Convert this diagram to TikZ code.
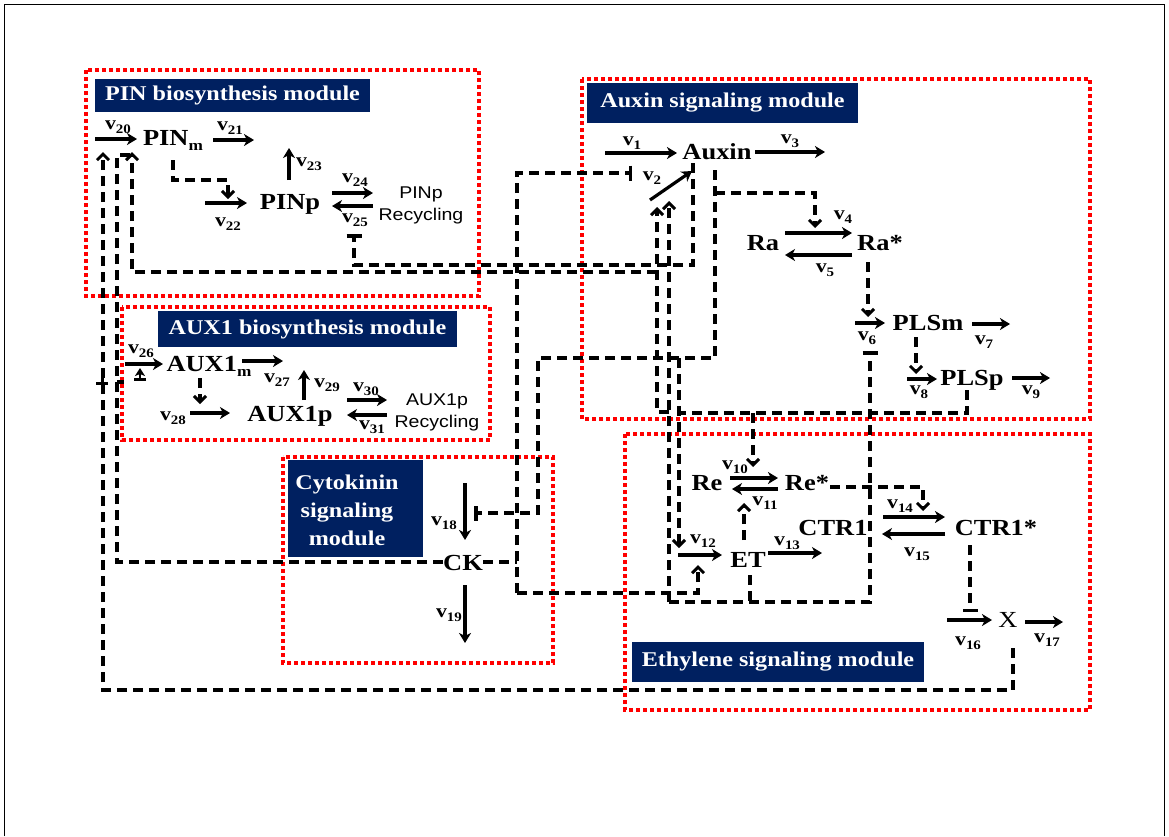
\documentclass[tikz,border=0pt]{standalone}
\usepackage{fontspec}
\setmainfont{Liberation Serif}[FakeStretch=1.15]
\setsansfont{Liberation Sans}[FakeStretch=1.15]
\usetikzlibrary{arrows.meta}
\definecolor{navy}{RGB}{0,32,96}
\newcommand\vsub[1]{\raisebox{-4.5pt}{\fontsize{13}{13}\selectfont #1}}
\newcommand\vl[1]{v\vsub{#1}}
\newcommand\spsub[1]{\raisebox{-5pt}{\fontsize{15}{15}\selectfont #1}}
\tikzset{
  species/.style={font=\fontsize{23}{24}\selectfont\bfseries, inner sep=0pt},
  vlab/.style={font=\fontsize{19}{20}\selectfont\bfseries, inner sep=0pt},
  rec/.style={font=\sffamily\fontsize{17}{22}\selectfont, align=center, inner sep=0pt},
  titlebox/.style={fill=navy, text=white, font=\fontsize{21}{27}\selectfont\bfseries, inner sep=0pt},
  modbox/.style={draw=red, line width=4pt, dash pattern=on 4pt off 3pt},
  rx/.style={line width=3.2pt, -{Stealth[length=10pt,width=12pt,inset=3pt]}},
  dline/.style={line width=3.2pt, dash pattern=on 10pt off 6pt},
  act/.style={dline, -{Straight Barb[length=6pt,width=12pt,line width=3pt]}},
  inh/.style={dline, -{Bar[width=15pt,line width=3.5pt]}}
}
\begin{document}
\begin{tikzpicture}[x=1pt,y=-1pt]
\useasboundingbox (0,0) rectangle (1169,836);
\fill[white] (0,0) rectangle (1169,836);
\draw[line width=1pt] (4.5,836) -- (4.5,4.5) -- (1164.5,4.5) -- (1164.5,836);

% module boxes
\draw[modbox] (86,70) rectangle (479,296);
\draw[modbox] (122,307) rectangle (490,440);
\draw[modbox] (582,79) rectangle (1090,419);
\draw[modbox] (625,434) rectangle (1090,710);
\draw[modbox] (283,457) rectangle (553,663);

% titles
\node[titlebox, minimum width=275pt, minimum height=33pt] (pint) at (232.5,95.5) {PIN biosynthesis module};
\node[titlebox, minimum width=299pt, minimum height=36pt] (auxt) at (307.5,329) {AUX1 biosynthesis module};
\node[titlebox, minimum width=271pt, minimum height=40pt] (auxint) at (722.5,103) {Auxin signaling module};
\node[titlebox, minimum width=292pt, minimum height=40pt] (etht) at (778,662) {Ethylene signaling module};
\node[titlebox, minimum width=135pt, minimum height=97pt] (ckt) at (355.5,508.5) {};
\node[text=white, font=\fontsize{21}{28}\selectfont\bfseries, align=center, inner sep=0pt] (cktx) at (347,510) {Cytokinin\\signaling\\ module};

% species
\node[species] (pinm) at (173,140) {PIN\spsub{m}};
\node[species] (pinp) at (290,204) {PINp};
\node[species] (aux1m) at (209,366) {AUX1\spsub{m}};
\node[species] (aux1p) at (290,416) {AUX1p};
\node[species] (auxin) at (717,152) {Auxin};
\node[species] (ra) at (763,243) {Ra};
\node[species] (rastar) at (880,243) {Ra*};
\node[species] (plsm) at (928,323) {PLSm};
\node[species] (plsp) at (972,380) {PLSp};
\node[species] (re) at (707,483) {Re};
\node[species] (restar) at (807,483) {Re*};
\node[species] (ctr1) at (833,528) {CTR1};
\node[species] (ctr1s) at (996,528) {CTR1*};
\node[species] (et) at (748,560) {ET};
\node[species] (ck) at (463,563) {CK};
\node[font=\fontsize{23}{24}\selectfont, inner sep=0pt] (xx) at (1008,620) {X};
\node[rec] (pinrec) at (421,205) {PINp\\Recycling};
\node[rec] (auxrec) at (437,412) {AUX1p\\Recycling};

% reaction arrows
\coordinate (a20s) at (95,139);  \coordinate (a20e) at (137,139);
\draw[rx] (a20s) -- (a20e);
\draw[rx] (213,140) -- (254,140);
\draw[rx] (205,203) -- (247,203);
\draw[rx] (289,180) -- (289,148);
\draw[rx] (332,193) -- (373,193);
\draw[rx] (373,206) -- (332,206);
\draw[rx] (125,364) -- (163,364);
\draw[line width=2.8pt, {Bar[width=12pt,line width=2.8pt]}-{Stealth[length=8pt,width=10pt,inset=2pt]}] (140,381) -- (140,368);
\draw[rx] (242,361) -- (283,361);
\draw[rx] (190,413) -- (230,413);
\draw[rx] (304,400) -- (304,370);
\draw[rx] (347,400) -- (387,400);
\draw[rx] (387,415) -- (347,415);
\draw[rx] (605,153) -- (677,153);
\draw[rx] (755,152) -- (825,152);
\draw[rx] (650,200) -- (692,171);
\draw[rx] (785,233) -- (852,233);
\draw[rx] (852,255) -- (785,255);
\draw[rx] (855,323) -- (885,323);
\draw[rx] (972,324) -- (1010,324);
\draw[rx] (907,379) -- (937,379);
\draw[rx] (1012,378) -- (1050,378);
\draw[rx] (730,478) -- (778,478);
\draw[rx] (778,489) -- (732,489);
\draw[rx] (678,555) -- (722,555);
\draw[rx] (768,553) -- (822,553);
\draw[rx] (883,517) -- (945,517);
\draw[rx] (945,534) -- (882,534);
\draw[rx] (947,620) -- (992,620);
\draw[rx] (1025,622) -- (1063,622);
\draw[rx] (465,483) -- (465,540);
\draw[rx] (465,585) -- (465,643);

% v labels
\node[vlab] (v20) at (118,127) {\vl{20}};
\node[vlab] (v21) at (230,128) {\vl{21}};
\node[vlab] (v22) at (228,224) {\vl{22}};
\node[vlab] (v23) at (309,164) {\vl{23}};
\node[vlab] (v24) at (355,180) {\vl{24}};
\node[vlab] (v25) at (355,220) {\vl{25}};
\node[vlab] (v26) at (141,351) {\vl{26}};
\node[vlab] (v27) at (277,380) {\vl{27}};
\node[vlab] (v28) at (173,418) {\vl{28}};
\node[vlab] (v29) at (327,385) {\vl{29}};
\node[vlab] (v30) at (366,389) {\vl{30}};
\node[vlab] (v31) at (372,427) {\vl{31}};
\node[vlab] (v1) at (632,143) {\vl{1}};
\node[vlab] (v2) at (652,178) {\vl{2}};
\node[vlab] (v3) at (790,141) {\vl{3}};
\node[vlab] (v4) at (843,217) {\vl{4}};
\node[vlab] (v5) at (825,270) {\vl{5}};
\node[vlab] (v6) at (867,338) {\vl{6}};
\node[vlab] (v7) at (984,342) {\vl{7}};
\node[vlab] (v8) at (919,392) {\vl{8}};
\node[vlab] (v9) at (1031,392) {\vl{9}};
\node[vlab] (v10) at (735,467) {\vl{10}};
\node[vlab] (v11) at (765,503) {\vl{11}};
\node[vlab] (v12) at (703,541) {\vl{12}};
\node[vlab] (v13) at (787,543) {\vl{13}};
\node[vlab] (v14) at (900,506) {\vl{14}};
\node[vlab] (v15) at (917,554) {\vl{15}};
\node[vlab] (v16) at (968,643) {\vl{16}};
\node[vlab] (v17) at (1047,640) {\vl{17}};
\node[vlab] (v18) at (444,523) {\vl{18}};
\node[vlab] (v19) at (449,615) {\vl{19}};

% dashed regulatory connectors
\draw[act] (173,160) -- (173,180) -- (228,180) -- (228,199);
\draw[act] (200,378) -- (200,404);
\draw[inh] (693,163) -- (693,265) -- (354,265) -- (354,234);
\draw[act] (669,412) -- (657,412) -- (657,207);
\draw[act] (657,272) -- (132,272) -- (132,152);
\draw[dline] (750,575) -- (750,602);
\draw[inh] (669,602) -- (870,602) -- (870,351);
\draw[act] (669,602) -- (669,201);
\draw[dline] (967,390) -- (967,413) -- (679,413);
\draw[act] (753,413) -- (753,467);
\draw[inh] (715,170) -- (715,358) -- (538,358) -- (538,513) -- (474,513);
\draw[act] (715,193) -- (815,193) -- (815,228);
\draw[act] (679,358) -- (679,548);
\draw[dline] (483,562) -- (517,562);
\draw[inh] (517,593) -- (517,173) -- (632,173);
\draw[act] (517,593) -- (698,593) -- (698,565);
\draw[dline] (443,562) -- (117,562) -- (117,155) -- (131,155);
\draw[dline] (117,382) -- (124,382);
\draw[act] (1013,648) -- (1013,690) -- (103,690) -- (103,152);
\draw[line width=3pt] (96,383) -- (108,383) (102,377) -- (102,389);
\draw[act] (830,487) -- (923,487) -- (923,511);
\draw[inh] (970,545) -- (970,612);
\draw[act] (744,540) -- (744,503);
\draw[act] (868,262) -- (868,317);
\draw[act] (916,337) -- (916,374);
\end{tikzpicture}
\end{document}
